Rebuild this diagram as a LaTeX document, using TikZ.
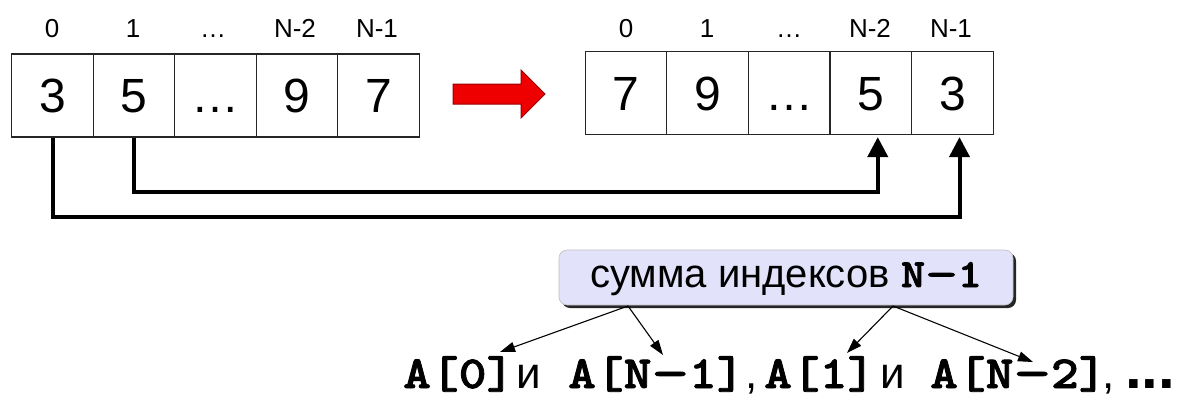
\documentclass[tikz,border=0pt]{standalone}
\usepackage{fontspec}
\setmainfont{Liberation Sans}
\newfontfamily\cour{lmmonolt10-bold.otf}[FakeStretch=1.15,FakeBold=1.8]
\usetikzlibrary{arrows.meta,shadows}
\definecolor{bubblefill}{RGB}{226,226,250}
\definecolor{arrowred}{RGB}{238,0,0}
\definecolor{arrowdark}{RGB}{150,0,0}
\newcommand{\longdash}{\scalebox{1.35}[1]{–}}
\begin{document}
\begin{tikzpicture}[x=1pt,y=-1pt,
  cell/.style={draw=black!85,line width=1.2pt,minimum width=81.5pt,minimum height=83pt,
    inner sep=0pt,text height=34pt,text depth=0pt,font=\fontsize{48}{48}\selectfont},
  idx/.style={font=\fontsize{26}{26}\selectfont,inner sep=0pt,text height=19pt,text depth=0pt},
  swaparrow/.style={line width=4pt,-{Triangle[length=20pt,width=20pt]}},
  bubble/.style={draw=black!25,line width=0.6pt,fill=bubblefill,rounded corners=8pt,
    minimum width=454pt,minimum height=55pt,inner sep=0pt,text height=23pt,text depth=4pt,
    drop shadow={shadow xshift=3pt,shadow yshift=-3pt,opacity=1,fill=black!85},
    font=\fontsize{40}{40}\selectfont},
  ptr/.style={line width=1.1pt,-{Triangle[length=15pt,width=10pt]}},
  mono/.style={font=\fontsize{46}{46}\cour,inner sep=0pt,anchor=base west},
  sans/.style={font=\fontsize{44}{44}\selectfont,inner sep=0pt,anchor=base west}
]
\useasboundingbox (0,0) rectangle (1178,399);
% left array
\node[cell] (L0) at (52.5,95.5) {3};
\node[cell] (L1) at (134,95.5) {5};
\node[cell] (L2) at (215.5,95.5) {…};
\node[cell] (L3) at (297,95.5) {9};
\node[cell] (L4) at (378.5,95.5) {7};
\node[idx] (li0) at (52,28) {0};
\node[idx] (li1) at (133,28) {1};
\node[idx] (li2) at (213,28) {…};
\node[idx] (li3) at (295,28) {N-2};
\node[idx] (li4) at (377,28) {N-1};
% right array
\node[cell] (R0) at (626,93) {7};
\node[cell] (R1) at (707.5,93) {9};
\node[cell] (R2) at (789,93) {…};
\node[cell] (R3) at (870.75,93) {5};
\node[cell] (R4) at (952.5,93) {3};
\node[idx] (ri0) at (626,28) {0};
\node[idx] (ri1) at (707,28) {1};
\node[idx] (ri2) at (789,28) {…};
\node[idx] (ri3) at (870,28) {N-2};
\node[idx] (ri4) at (951,28) {N-1};
% red arrow
\draw[fill=arrowred,draw=arrowdark,line width=1pt] (453,84) -- (521,84) -- (521,70) -- (545,94) -- (521,118) -- (521,104) -- (453,104) -- cycle;
% swap connectors
\draw[swaparrow] (L1.south) -- ++(0,54) -| ([xshift=7pt,yshift=-2pt]R3.south);
\draw[swaparrow] (L0.south) -- ++(0,79) -| ([xshift=7pt,yshift=-2pt]R4.south);
% bubble
\node[bubble] (S) at (786,277.5) {сумма индексов {\cour N\longdash 1}};
% bottom text
\node[mono] (b1) at (403,388) {A[0]};
\node[sans] (b2) at (516,388) {и};
\node[mono] (b3) at (568,388) {A[N\longdash 1]};
\node[sans] (b4) at (745,388) {,};
\node[mono] (b5) at (764,388) {A[1]};
\node[sans] (b6) at (880,388) {и};
\node[mono] (b7) at (930,388) {A[N\longdash 2]};
\node[sans] (b8) at (1102,388) {,};
\node[sans,font=\fontsize{60}{60}\selectfont\bfseries] (b9) at (1125,388) {...};
\coordinate (s1) at (628,306);
\coordinate (s2) at (893,306);
\coordinate (t1) at (500,352);
\coordinate (t2) at (663,355);
\coordinate (t3) at (847,353);
\coordinate (t4) at (1033,362);
\draw[ptr] (s1) -- (t1);
\draw[ptr] (s1) -- (t2);
\draw[ptr] (s2) -- (t3);
\draw[ptr] (s2) -- (t4);
\end{tikzpicture}
\end{document}
